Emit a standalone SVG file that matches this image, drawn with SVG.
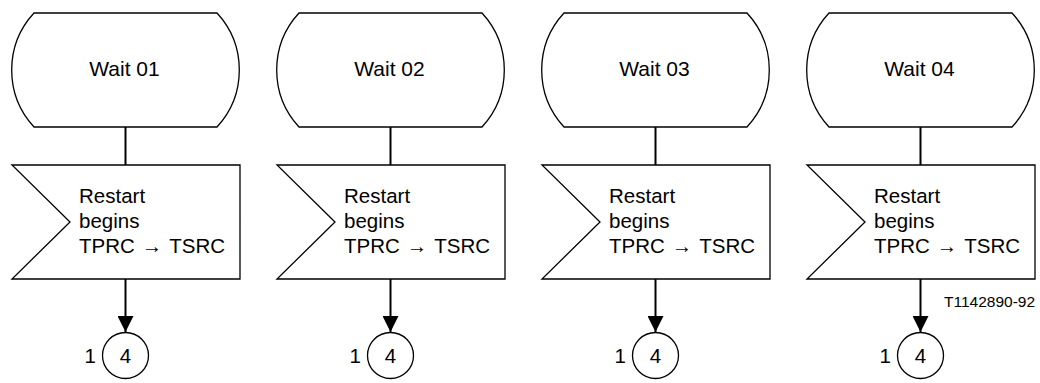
<svg xmlns="http://www.w3.org/2000/svg" width="1040" height="383" viewBox="0 0 1040 383">
<style>
.shape{fill:#fff;stroke:#000;stroke-width:1.3}
.conn{fill:none;stroke:#000;stroke-width:2}
.t{font-family:"Liberation Sans",Arial,sans-serif;fill:#000}
.wait{font-size:21px;text-anchor:middle}
.sig{font-size:20.5px}
.ref{font-size:15.5px}
</style>
<defs>
<marker id="arr" markerUnits="userSpaceOnUse" markerWidth="16" markerHeight="16" viewBox="0 0 16 16" refX="16" refY="8" orient="auto">
<path d="M0 0 L16 8 L0 16 Z" fill="#000"/>
</marker>
<path id="stateShape" d="M-91.5 13 H91.5 A84 84 0 0 1 91.5 127 H-91.5 A84 84 0 0 1 -91.5 13 Z"/>
<path id="sigShape" d="M-113.5 165 H114.5 V279 H-113.5 L-55.5 222 Z"/>
</defs>
<g id="connectors">
<line class="conn" x1="125.5" y1="127" x2="125.5" y2="165"/>
<line class="conn" x1="125.5" y1="279" x2="125.5" y2="332" marker-end="url(#arr)"/>
<line class="conn" x1="390.5" y1="127" x2="390.5" y2="165"/>
<line class="conn" x1="390.5" y1="279" x2="390.5" y2="332" marker-end="url(#arr)"/>
<line class="conn" x1="655.5" y1="127" x2="655.5" y2="165"/>
<line class="conn" x1="655.5" y1="279" x2="655.5" y2="332" marker-end="url(#arr)"/>
<line class="conn" x1="920.5" y1="127" x2="920.5" y2="165"/>
<line class="conn" x1="920.5" y1="279" x2="920.5" y2="332" marker-end="url(#arr)"/>
</g>
<g id="wait01" transform="translate(125.5 0)">
<use href="#stateShape" class="shape"/>
<text class="t wait" x="-1" y="76">Wait 01</text>
</g>
<g id="wait02" transform="translate(390.5 0)">
<use href="#stateShape" class="shape"/>
<text class="t wait" x="-1" y="76">Wait 02</text>
</g>
<g id="wait03" transform="translate(655.5 0)">
<use href="#stateShape" class="shape"/>
<text class="t wait" x="-1" y="76">Wait 03</text>
</g>
<g id="wait04" transform="translate(920.5 0)">
<use href="#stateShape" class="shape"/>
<text class="t wait" x="-1" y="76">Wait 04</text>
</g>
<g id="signal1" transform="translate(125.5 0)">
<use href="#sigShape" class="shape"/>
<text class="t sig" x="-46.5" y="203">Restart</text>
<text class="t sig" x="-46.5" y="228">begins</text>
<text class="t sig" x="-46.5" y="253">TPRC<tspan dx="7">→</tspan><tspan dx="7">TSRC</tspan></text>
</g>
<g id="signal2" transform="translate(390.5 0)">
<use href="#sigShape" class="shape"/>
<text class="t sig" x="-46.5" y="203">Restart</text>
<text class="t sig" x="-46.5" y="228">begins</text>
<text class="t sig" x="-46.5" y="253">TPRC<tspan dx="7">→</tspan><tspan dx="7">TSRC</tspan></text>
</g>
<g id="signal3" transform="translate(655.5 0)">
<use href="#sigShape" class="shape"/>
<text class="t sig" x="-46.5" y="203">Restart</text>
<text class="t sig" x="-46.5" y="228">begins</text>
<text class="t sig" x="-46.5" y="253">TPRC<tspan dx="7">→</tspan><tspan dx="7">TSRC</tspan></text>
</g>
<g id="signal4" transform="translate(920.5 0)">
<use href="#sigShape" class="shape"/>
<text class="t sig" x="-46.5" y="203">Restart</text>
<text class="t sig" x="-46.5" y="228">begins</text>
<text class="t sig" x="-46.5" y="253">TPRC<tspan dx="7">→</tspan><tspan dx="7">TSRC</tspan></text>
</g>
<g id="conn1" transform="translate(125.5 0)">
<circle class="shape" cx="0" cy="355.5" r="23"/>
<text class="t sig" x="0" y="363" text-anchor="middle">4</text>
<text class="t sig" x="-41" y="363">1</text>
</g>
<g id="conn2" transform="translate(390.5 0)">
<circle class="shape" cx="0" cy="355.5" r="23"/>
<text class="t sig" x="0" y="363" text-anchor="middle">4</text>
<text class="t sig" x="-41" y="363">1</text>
</g>
<g id="conn3" transform="translate(655.5 0)">
<circle class="shape" cx="0" cy="355.5" r="23"/>
<text class="t sig" x="0" y="363" text-anchor="middle">4</text>
<text class="t sig" x="-41" y="363">1</text>
</g>
<g id="conn4" transform="translate(920.5 0)">
<circle class="shape" cx="0" cy="355.5" r="23"/>
<text class="t sig" x="0" y="363" text-anchor="middle">4</text>
<text class="t sig" x="-41" y="363">1</text>
</g>
<text id="ref" class="t ref" x="944" y="307">T1142890-92</text>
</svg>
